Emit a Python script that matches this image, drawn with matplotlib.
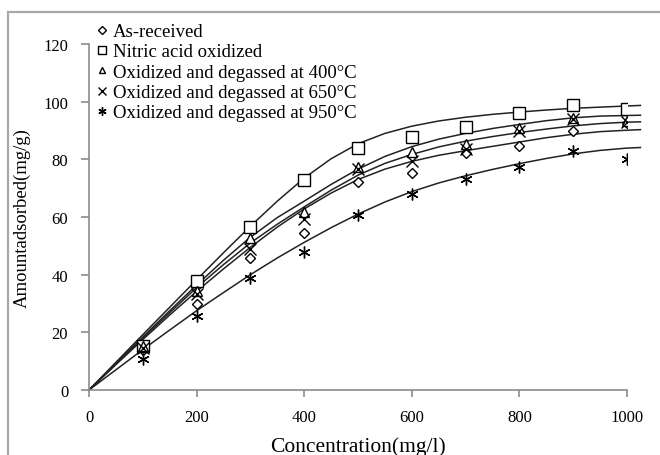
import matplotlib.pyplot as plt
from matplotlib.patches import Rectangle
from matplotlib.lines import Line2D

# measured points
conc = [100, 200, 300, 400, 500, 600, 700, 800, 900, 1000]
as_received = [14.0, 29.8, 45.8, 54.3, 72.3, 75.2, 82.1, 84.7, 89.9, 92.6]
nitric = [15.1, 37.9, 56.6, 72.8, 84.1, 87.7, 91.3, 96.0, 98.9, 97.6]
deg_400 = [15.3, 34.4, 52.7, 61.8, 77.4, 82.5, 85.3, 90.7, 94.5, 93.2]
deg_650 = [14.6, 33.3, 48.9, 59.3, 76.6, 79.5, 83.5, 89.9, 93.9, 93.0]
deg_950 = [10.9, 25.7, 38.7, 47.7, 60.7, 67.9, 73.1, 77.4, 82.8, 80.1]

# fitted curves
fit_x = [0, 50, 100, 150, 200, 250, 300, 350, 400, 450, 500,
         550, 600, 650, 700, 750, 800, 850, 900, 950, 1000, 1025]
fit_nitric = [0, 9.6, 19.2, 28.7, 38.2, 47.6, 56.8, 65.5, 73.5, 80.2, 85.4,
              89.0, 91.5, 93.3, 94.6, 95.6, 96.4, 97.1, 97.7, 98.1, 98.5, 98.7]
fit_400 = [0, 9.2, 18.4, 27.5, 36.4, 45.0, 53.0, 59.8, 65.5, 71.3, 76.6,
           81.0, 84.4, 87.0, 89.0, 90.7, 92.1, 93.4, 94.4, 95.0, 95.2, 95.3]
fit_650 = [0, 9.0, 18.0, 26.8, 35.5, 43.5, 51.0, 57.5, 63.5, 69.3, 74.5,
           78.6, 81.7, 84.3, 86.3, 87.9, 89.3, 90.5, 91.6, 92.4, 92.9, 93.0]
fit_as_received = [0, 8.8, 17.5, 26.0, 34.2, 42.0, 49.5, 56.5, 62.8, 68.3, 73.0,
                   76.6, 79.3, 81.4, 83.0, 84.5, 86.0, 87.5, 88.7, 89.6, 90.1, 90.3]
fit_950 = [0, 7.0, 14.0, 20.8, 27.5, 33.8, 40.0, 45.8, 51.2, 56.3, 61.0,
           65.2, 68.8, 71.8, 74.3, 76.5, 78.5, 80.3, 81.9, 83.1, 83.9, 84.1]

labels = ["As-received", "Nitric acid oxidized", "Oxidized and degassed at 400°C",
          "Oxidized and degassed at 650°C", "Oxidized and degassed at 950°C"]
x_ticks = [0, 200, 400, 600, 800, 1000]
y_ticks = [0, 20, 40, 60, 80, 100, 120]

plt.rcParams['font.family'] = ['Liberation Serif', 'DejaVu Serif']

fig = plt.figure(figsize=(6.6, 4.56), dpi=100)
ax = fig.add_axes([89 / 660, 65 / 456, 538 / 660, 346 / 456])

# grey frame around the whole chart (cropped on right/bottom)
fig.add_artist(Rectangle((8 / 660, -0.5), 2, (456 - 13) / 456 + 0.5,
                         transform=fig.transFigure, fill=False,
                         edgecolor='#a8a8a8', lw=1.6))

line_kw = dict(color='#222222', lw=1.1, clip_on=False, zorder=2)
for fy in [fit_nitric, fit_400, fit_650, fit_as_received, fit_950]:
    ax.plot(fit_x, fy, **line_kw)

series = [as_received, nitric, deg_400, deg_650, deg_950]
markers = ['D', 's', '^', 'x', (6, 2, 0)]
sizes = [5.5, 8.5, 6.5, 8, 8.5]
handles = []
for ys, m, s in zip(series, markers, sizes):
    face = 'white' if m in ['D', 's', '^'] else 'black'
    ax.plot(conc, ys, linestyle='none', marker=m, markersize=s,
            markerfacecolor=face, markeredgecolor='black',
            markeredgewidth=1.0, zorder=3)
    handles.append(Line2D([], [], linestyle='none', marker=m, markersize=s * 0.7,
                          markerfacecolor=face, markeredgecolor='black',
                          markeredgewidth=1.0))

ax.set_xlim(0, 1000)
ax.set_ylim(0, 120)
ax.set_xticks(x_ticks)
ax.set_yticks(y_ticks)
for side in ['top', 'right']:
    ax.spines[side].set_visible(False)
for side in ['left', 'bottom']:
    ax.spines[side].set_color('#8c8c8c')
    ax.spines[side].set_linewidth(1.2)
ax.tick_params(axis='both', direction='out', color='#8c8c8c', width=1.2, labelsize=12)
ax.tick_params(axis='y', length=6, pad=9)
ax.tick_params(axis='x', length=5, pad=9)

ax.set_xlabel("Concentration(mg/l)", fontsize=15.5, labelpad=8)
ax.set_ylabel("Amountadsorbed(mg/g)", fontsize=13.5, labelpad=9)

ax.legend(handles, labels, loc='upper left', bbox_to_anchor=(95 / 660, 1 - 24 / 456),
          bbox_transform=fig.transFigure, frameon=False, fontsize=13.5,
          handlelength=0.7, handletextpad=0.25, labelspacing=0.17,
          borderpad=0, borderaxespad=0)

fig.savefig("out.png", dpi=100)
